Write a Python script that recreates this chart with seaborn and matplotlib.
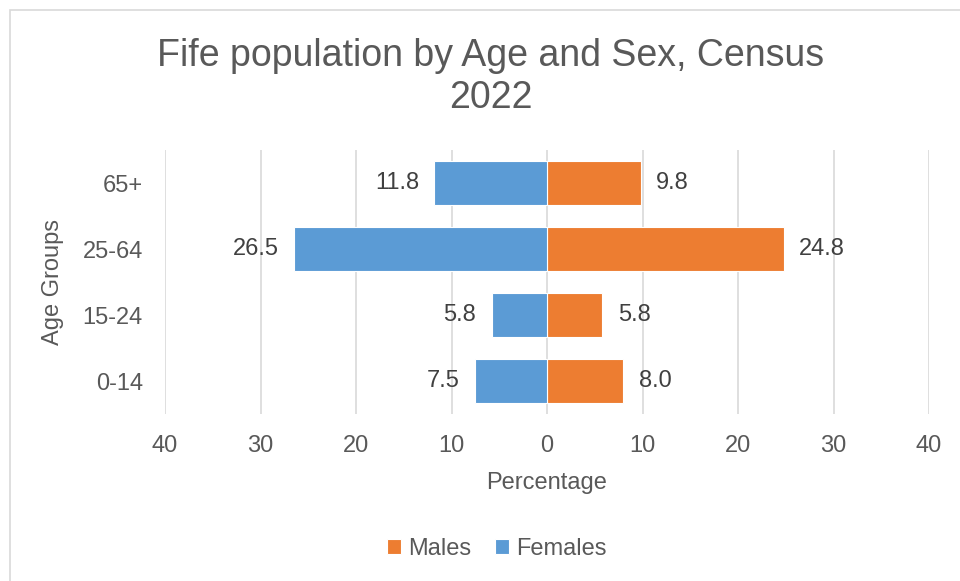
import pandas as pd
import matplotlib.pyplot as plt
import seaborn as sns
from matplotlib.patches import Rectangle

# Fife census 2022, % of population
age_groups = ['65+', '25-64', '15-24', '0-14']
males = [9.8, 24.8, 5.8, 8.0]
females = [11.8, 26.5, 5.8, 7.5]
x_ticks = [-40, -30, -20, -10, 0, 10, 20, 30, 40]

df = pd.DataFrame({
    'Age': age_groups * 2,
    'Percentage': males + [-v for v in females],
    'Sex': ['Males'] * len(males) + ['Females'] * len(females),
})

sns.set_theme(style='white')
plt.rcParams['font.family'] = ['Liberation Sans', 'DejaVu Sans']

fig = plt.figure(figsize=(9.6, 5.81), dpi=100)
ax = fig.add_axes([165 / 960, 1 - 414 / 581, (929 - 165) / 960, (414 - 150) / 581])

# chart frame (Excel style, cut at right/bottom)
fig.patches.append(Rectangle((10 / 960, -0.1), 2, 1 - 10 / 581 + 0.1,
                             transform=fig.transFigure, fill=False,
                             edgecolor='#D9D9D9', linewidth=1.2))

palette = {'Males': '#ED7D31', 'Females': '#5B9BD5'}
sns.barplot(data=df, y='Age', x='Percentage', hue='Sex', order=age_groups,
            hue_order=['Males', 'Females'], palette=palette, dodge=False,
            width=0.66, orient='h', edgecolor='white', linewidth=0.8,
            saturation=1, ax=ax, zorder=3)

for cont in ax.containers:
    labels = [f'{abs(b.get_width()):.1f}' for b in cont]
    ax.bar_label(cont, labels=labels, padding=11, fontsize=17, color='#404040')

ax.set_xlim(-40, 40)
ax.set_ylim(3.5, -0.5)
ax.set_xticks(x_ticks)
ax.set_xticklabels([str(abs(t)) for t in x_ticks])
ax.tick_params(axis='both', length=0, labelsize=17, labelcolor='#595959')
ax.tick_params(axis='x', pad=15)
ax.tick_params(axis='y', pad=16)
ax.grid(axis='x', color='#D9D9D9', linewidth=1.2, zorder=0)
ax.set_axisbelow(True)
for s in ax.spines.values():
    s.set_visible(False)

ax.set_xlabel('Percentage', fontsize=17, color='#595959', labelpad=11)
ax.set_ylabel('Age Groups', fontsize=17, color='#595959', labelpad=13)

fig.suptitle('Fife population by Age and Sex, Census\n2022', x=491 / 960, y=1 - 38 / 581,
             fontsize=27, color='#595959', linespacing=1.2)

ax.legend_.remove()
handles, lbls = ax.get_legend_handles_labels()
fig.legend(handles, lbls, loc='center', bbox_to_anchor=(497 / 960, 1 - 549 / 581),
           ncol=2, frameon=False, fontsize=17, labelcolor='#595959',
           handlelength=0.6, handleheight=0.6, handletextpad=0.3, columnspacing=1.0)

fig.savefig('out.png', dpi=100, facecolor='white')
